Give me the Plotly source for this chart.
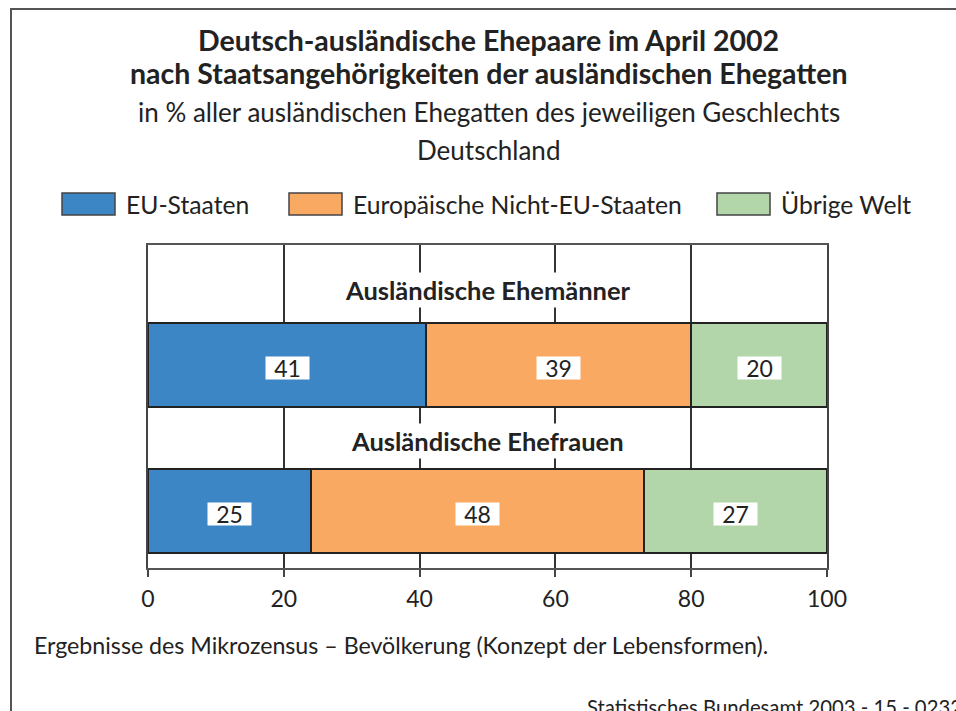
import plotly.graph_objects as go

# Daten: Anteil in % aller ausländischen Ehegatten des jeweiligen Geschlechts
GRUPPEN = ["Ausländische Ehemänner", "Ausländische Ehefrauen"]
SERIEN = ["EU-Staaten", "Europäische Nicht-EU-Staaten", "Übrige Welt"]
WERTE = {
    "EU-Staaten": [41, 24],
    "Europäische Nicht-EU-Staaten": [39, 49],
    "Übrige Welt": [20, 27],
}
# ausgewiesene (gerundete) Beschriftungen
BESCHRIFTUNG = {
    "EU-Staaten": ["41", "25"],
    "Europäische Nicht-EU-Staaten": ["39", "48"],
    "Übrige Welt": ["20", "27"],
}
FARBEN = ["#3C86C6", "#F9A961", "#B2D6AA"]
X_TICKS = [0, 20, 40, 60, 80, 100]

W, H = 956, 711
L, R, T, B = 148, 827, 245, 568   # Plotfläche in Pixeln
FONT = "Lato"
DUNKEL = "#222222"


def px(x):
    return (x - L) / (R - L)


def py(y):
    return (B - y) / (B - T)


fig = go.Figure()

basis = [0] * len(GRUPPEN)
for serie, farbe in zip(SERIEN, FARBEN):
    werte = WERTE[serie]
    fig.add_trace(go.Bar(
        y=GRUPPEN, x=werte, base=basis, orientation="h", width=0.573,
        marker=dict(color=farbe, line=dict(color=DUNKEL, width=2)),
        name=serie, showlegend=False, hoverinfo="x+name",
    ))
    for gruppe, b, v, txt in zip(GRUPPEN, basis, werte, BESCHRIFTUNG[serie]):
        fig.add_annotation(
            x=b + v / 2, y=gruppe, yshift=-3, text=txt, showarrow=False,
            font=dict(family=FONT, size=23, color=DUNKEL),
            bgcolor="white", borderpad=0, width=43, height=22,
        )
    basis = [b + v for b, v in zip(basis, werte)]

# Gruppentitel über den Balken (weißer Hintergrund unterbricht die Gitterlinien)
for gruppe, shift in zip(GRUPPEN, [75, 70]):
    fig.add_annotation(
        x=50, y=gruppe, yshift=shift, text=f"<b>{gruppe}</b>", showarrow=False,
        font=dict(family=FONT, size=25.5, color=DUNKEL), bgcolor="white", borderpad=2,
    )

# Titel / Untertitel
for text, y, size in [
    ("<b>Deutsch-ausländische Ehepaare im April 2002</b>", 40, 28.5),
    ("<b>nach Staatsangehörigkeiten der ausländischen Ehegatten</b>", 73, 28.5),
    ("in % aller ausländischen Ehegatten des jeweiligen Geschlechts", 112, 26),
    ("Deutschland", 150, 26),
]:
    fig.add_annotation(xref="paper", yref="paper", x=px(488.5), y=py(y),
                       text=text, showarrow=False, xanchor="center", yanchor="middle",
                       font=dict(family=FONT, size=size, color=DUNKEL))

# Legende von Hand (große Farbfelder)
LEG_X = [62, 289, 717]
for serie, farbe, x0 in zip(SERIEN, FARBEN, LEG_X):
    fig.add_shape(type="rect", xref="paper", yref="paper",
                  x0=px(x0), x1=px(x0 + 53), y0=py(215), y1=py(193),
                  fillcolor=farbe, line=dict(color="#444", width=1.5))
    fig.add_annotation(xref="paper", yref="paper", x=px(x0 + 62), y=py(205),
                       text=serie, showarrow=False, xanchor="left", yanchor="middle",
                       font=dict(family=FONT, size=24.7, color=DUNKEL))

# Fußnote und Quelle
fig.add_annotation(xref="paper", yref="paper", x=px(32), y=py(645),
                   text="Ergebnisse des Mikrozensus – Bevölkerung (Konzept der Lebensformen).",
                   showarrow=False, xanchor="left", yanchor="middle",
                   font=dict(family=FONT, size=23.2, color=DUNKEL))
fig.add_annotation(xref="paper", yref="paper", x=px(585), y=py(707),
                   text="Statistisches Bundesamt 2003 - 15 - 0232",
                   showarrow=False, xanchor="left", yanchor="middle",
                   font=dict(family=FONT, size=20.3, color=DUNKEL))

# Rahmen um die Grafik
fig.add_shape(type="rect", xref="paper", yref="paper",
              x0=px(11), x1=px(1000), y0=py(760), y1=py(9),
              line=dict(color="#555", width=2))

fig.update_xaxes(
    range=[0, 100], tickvals=X_TICKS, showgrid=True, gridcolor="#333", gridwidth=1.5,
    zeroline=False, showline=True, mirror=True, linecolor="#555", linewidth=1.5,
    ticks="outside", ticklen=7, tickcolor="#444", tickwidth=1.5,
    tickfont=dict(family=FONT, size=23, color=DUNKEL), ticklabelstandoff=3,
    fixedrange=True,
)
fig.update_yaxes(
    type="category", categoryorder="array", categoryarray=GRUPPEN,
    range=[1.386, -0.819], showticklabels=False, showgrid=False,
    showline=True, mirror=True, linecolor="#444", linewidth=1.5, fixedrange=True,
)
fig.update_layout(
    width=W, height=H, barmode="stack", bargap=0,
    margin=dict(l=L, r=W - R, t=T, b=H - B, pad=0),
    plot_bgcolor="white", paper_bgcolor="white",
    font=dict(family=FONT, color=DUNKEL),
)

# Standardrand des <body> entfernen, damit die Grafik exakt im Fenster sitzt
fig.write_html("out.html", config={"displayModeBar": False}, post_script=(
    "document.body.style.margin='0';document.body.style.overflow='hidden';"
))
